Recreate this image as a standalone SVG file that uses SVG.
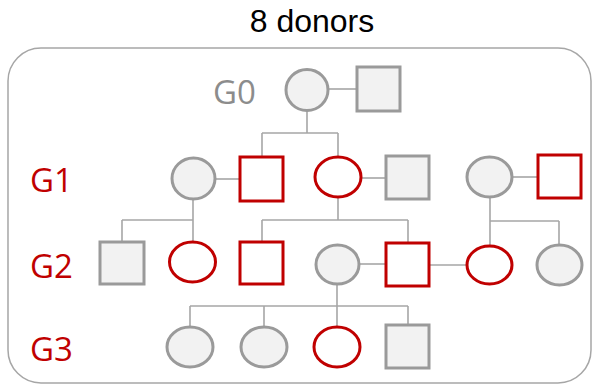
<svg xmlns="http://www.w3.org/2000/svg" width="593" height="384" viewBox="0 0 593 384">
  <style>
    .title { font-family: "Liberation Sans", "Open Sans", sans-serif; font-size: 32px; fill: #000; }
    .gen { font-family: "Open Sans", "Liberation Sans", sans-serif; font-size: 33px; }
    .red-t { fill: #c00000; }
    .gray-t { fill: #8c8c8c; }
    .g { fill: #f2f2f2; stroke: #9a9a9a; stroke-width: 3; }
    .r { fill: #ffffff; stroke: #c00000; stroke-width: 3; }
    .conn line { stroke: #a6a6a6; stroke-width: 1.6; }
    .frame { fill: none; stroke: #a6a6a6; stroke-width: 1.5; }
  </style>
  <rect width="593" height="384" fill="#ffffff"/>
  <text class="title" x="312" y="32" text-anchor="middle">8 donors</text>
  <rect class="frame" x="8" y="48" width="583" height="335" rx="33" ry="33"/>

  <text class="gen gray-t" x="213" y="104">G0</text>
  <text class="gen red-t" x="30" y="192">G1</text>
  <text class="gen red-t" x="30" y="278">G2</text>
  <text class="gen red-t" x="30" y="361">G3</text>

  <g id="connectors" class="conn">
    <line x1="328" y1="89" x2="357" y2="89"/>
    <line x1="307" y1="110" x2="307" y2="133"/>
    <line x1="262" y1="133" x2="338" y2="133"/>
    <line x1="262" y1="133" x2="262" y2="157"/>
    <line x1="338" y1="133" x2="338" y2="157"/>

    <line x1="215" y1="179" x2="240" y2="179"/>
    <line x1="361" y1="178" x2="386" y2="178"/>
    <line x1="512" y1="177" x2="538" y2="177"/>

    <line x1="193" y1="199" x2="193" y2="242"/>
    <line x1="122" y1="220" x2="193" y2="220"/>
    <line x1="122" y1="220" x2="122" y2="242"/>

    <line x1="338" y1="197" x2="338" y2="220"/>
    <line x1="262" y1="220" x2="408" y2="220"/>
    <line x1="262" y1="220" x2="262" y2="242"/>
    <line x1="408" y1="220" x2="408" y2="243"/>

    <line x1="490" y1="197" x2="490" y2="246"/>
    <line x1="490" y1="221" x2="559" y2="221"/>
    <line x1="559" y1="221" x2="559" y2="245"/>

    <line x1="359" y1="264" x2="386" y2="264"/>
    <line x1="429" y1="265" x2="467" y2="265"/>

    <line x1="337" y1="284" x2="337" y2="327"/>
    <line x1="190" y1="306" x2="408" y2="306"/>
    <line x1="190" y1="306" x2="190" y2="327"/>
    <line x1="264" y1="306" x2="264" y2="327"/>
    <line x1="408" y1="306" x2="408" y2="325"/>
  </g>

  <g id="g0-mother"><ellipse class="g" cx="307" cy="90" rx="21" ry="20.5"/></g>
  <g id="g0-father"><rect class="g" x="357" y="67" width="43" height="44"/></g>

  <g id="g1-f1"><ellipse class="g" cx="193.5" cy="178.5" rx="21.5" ry="20.5"/></g>
  <g id="g1-m1"><rect class="r" x="240" y="157" width="43" height="44"/></g>
  <g id="g1-f2"><ellipse class="r" cx="338" cy="177" rx="23" ry="20"/></g>
  <g id="g1-m2"><rect class="g" x="386" y="156" width="43" height="43"/></g>
  <g id="g1-f3"><ellipse class="g" cx="489.5" cy="177" rx="22.5" ry="20"/></g>
  <g id="g1-m3"><rect class="r" x="538" y="155" width="43" height="43"/></g>

  <g id="g2-m1"><rect class="g" x="100" y="242" width="44" height="42"/></g>
  <g id="g2-f1"><ellipse class="r" cx="192.5" cy="262" rx="23" ry="20"/></g>
  <g id="g2-m2"><rect class="r" x="240" y="242" width="43" height="42"/></g>
  <g id="g2-f2"><ellipse class="g" cx="337.5" cy="264.5" rx="21.5" ry="19.5"/></g>
  <g id="g2-m3"><rect class="r" x="386" y="243" width="43" height="43"/></g>
  <g id="g2-f3"><ellipse class="r" cx="489.5" cy="265" rx="22.5" ry="19"/></g>
  <g id="g2-f4"><ellipse class="g" cx="559.5" cy="265" rx="22.5" ry="20"/></g>

  <g id="g3-f1"><ellipse class="g" cx="190" cy="347" rx="23" ry="20"/></g>
  <g id="g3-f2"><ellipse class="g" cx="264" cy="347" rx="23" ry="20"/></g>
  <g id="g3-f3"><ellipse class="r" cx="337" cy="347" rx="23" ry="20"/></g>
  <g id="g3-m1"><rect class="g" x="386" y="325" width="43" height="43"/></g>
</svg>
